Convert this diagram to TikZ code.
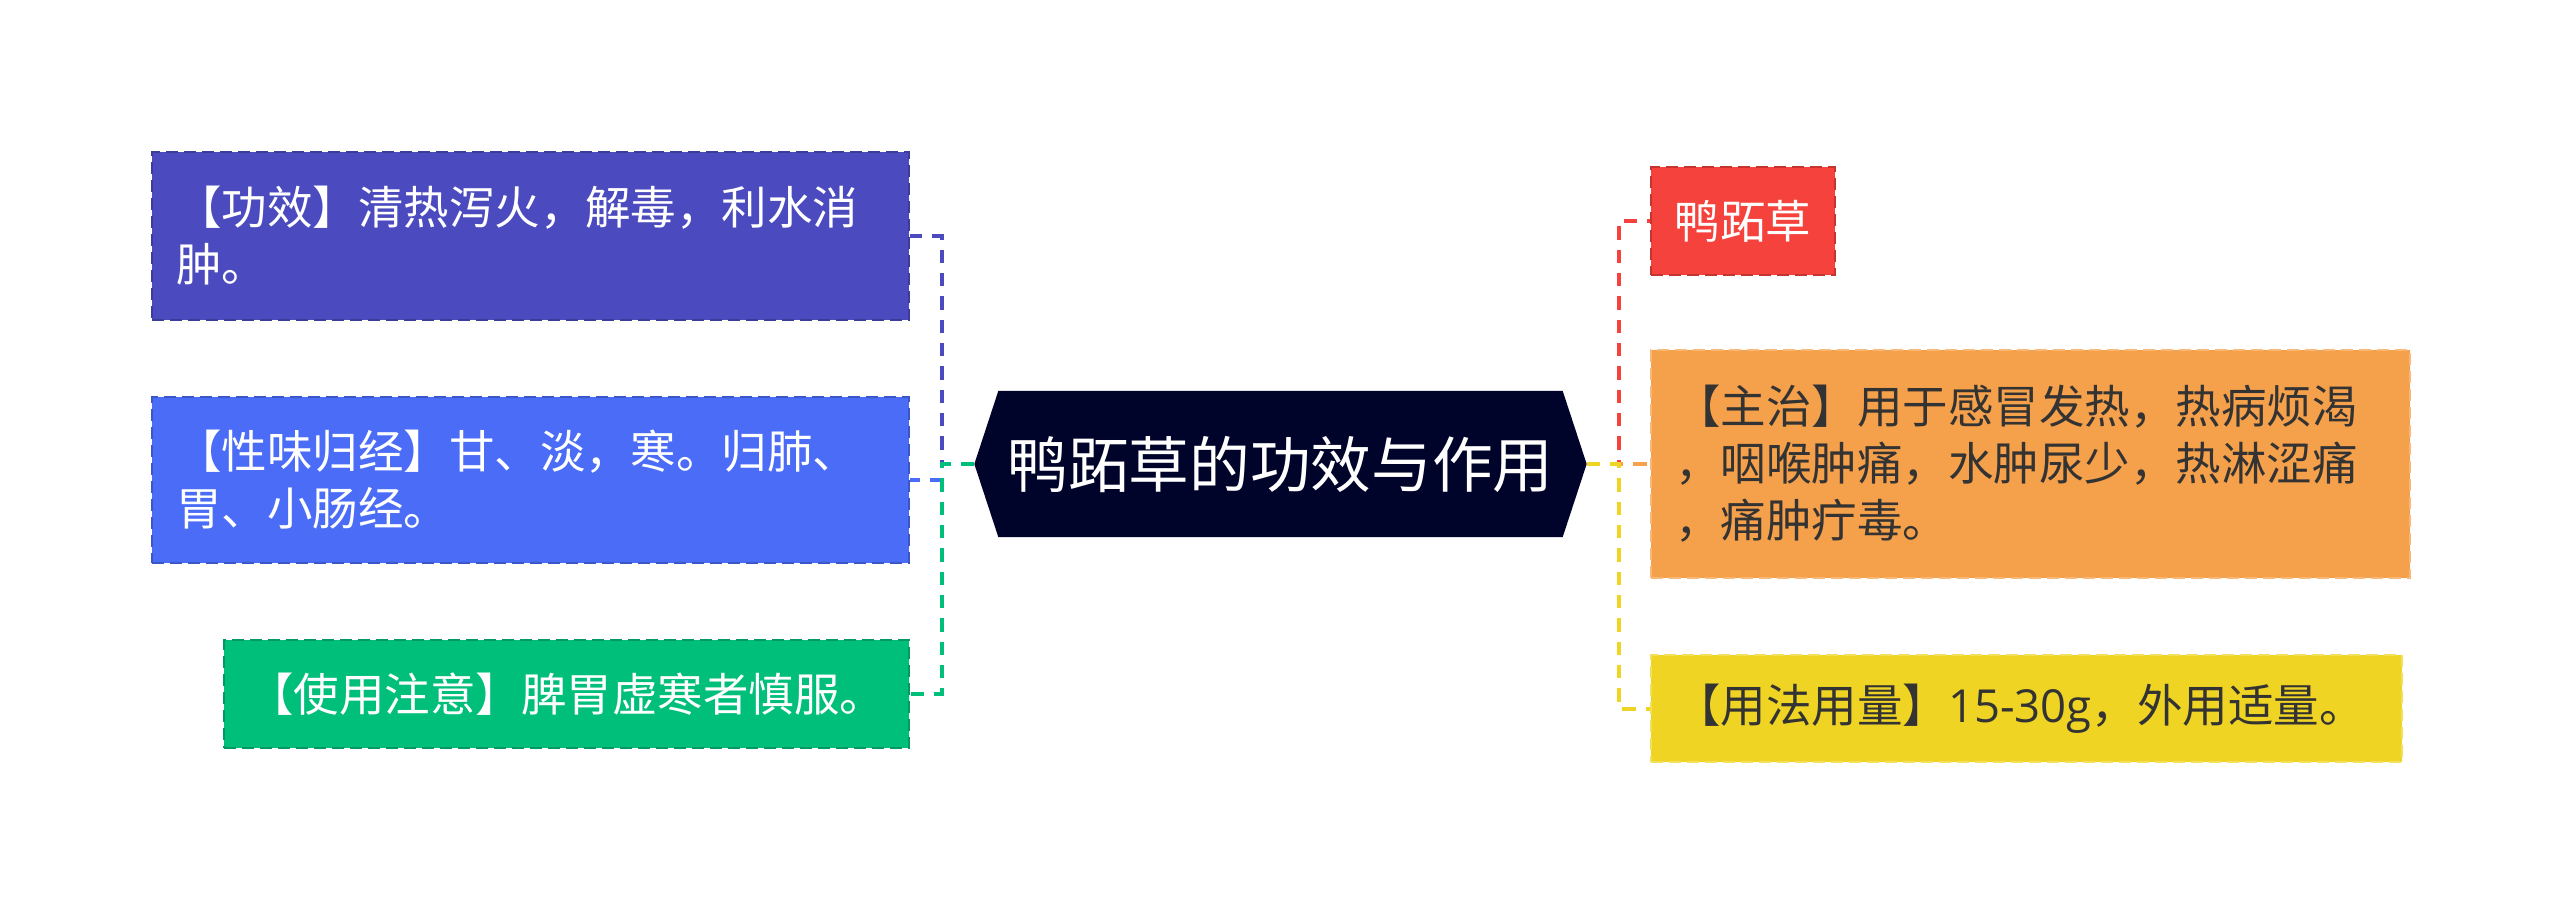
\documentclass[tikz,border=0pt]{standalone}
\usepackage{fontspec}
\setmainfont{Noto Sans CJK SC}
\newfontfamily\latinf{Open Sans}
\usetikzlibrary{backgrounds}
\definecolor{cPurple}{HTML}{4B4BBF}
\definecolor{cBlue}{HTML}{4A6CF7}
\definecolor{cGreen}{HTML}{00BF7B}
\definecolor{cRed}{HTML}{F5423C}
\definecolor{cOrange}{HTML}{F5A04B}
\definecolor{cYellow}{HTML}{F0D424}
\definecolor{cHex}{HTML}{00032A}
\definecolor{cText}{HTML}{333333}
\tikzset{
  box/.style={rectangle, inner xsep=7.2pt, inner ysep=0pt,
    font=\fontsize{13.65}{17.1}\selectfont, line width=0.6pt,
    dash pattern=on 3.6pt off 1.8pt},
  darkbox/.style={box, fill=#1, draw=#1!80!black, text=white},
  lightbox/.style={box, fill=#1, draw=#1!75!white, text=cText},
  conn/.style={line width=1.2pt, dash pattern=on 4pt off 3pt},
}
\begin{document}
\begin{tikzpicture}[x=0.3pt, y=-0.3pt]
\useasboundingbox (0,0) rectangle (2560,914);
% central node
\node (hex) at (1280.5,464) [minimum width=183.3pt, minimum height=43.5pt, inner sep=0pt,
  text=white, font=\fontsize{18.2}{20}\selectfont] {鸭跖草的功效与作用};
\begin{scope}[on background layer]
\fill[cHex] (hex.west) -- ([xshift=7.2pt]hex.north west) -- ([xshift=-7.2pt]hex.north east)
  -- (hex.east) -- ([xshift=-7.2pt]hex.south east) -- ([xshift=7.2pt]hex.south west) -- cycle;
\end{scope}
% left boxes
\node (b1) at (530.5,236) [darkbox=cPurple, minimum width=227.1pt, minimum height=50.4pt,
  text width=212.7pt, align=left] {【功效】清热泻火，解毒，利水消\\肿。};
\node (b2) at (530.5,480) [darkbox=cBlue, minimum width=227.1pt, minimum height=49.8pt,
  text width=212.7pt, align=left] {【性味归经】甘、淡，寒。归肺、\\胃、小肠经。};
\node (b3) at (566.5,694) [darkbox=cGreen, minimum width=205.5pt, minimum height=32.4pt,
  align=center] {【使用注意】脾胃虚寒者慎服。};
% right boxes
\node (r1) at (1743,221) [darkbox=cRed, minimum width=55.2pt, minimum height=32.4pt,
  align=center] {鸭跖草};
\node (r2) at (2030.5,464) [lightbox=cOrange, minimum width=227.7pt, minimum height=68.4pt,
  text width=213.3pt, align=left] {【主治】用于感冒发热，热病烦渴\\，咽喉肿痛，水肿尿少，热淋涩痛\\，痛肿疔毒。};
\node (r3) at (2026.5,708.5) [lightbox=cYellow, minimum width=225.3pt, minimum height=32.1pt,
  text width=210.9pt, align=left] {【用法用量】{\latinf 15-30g}，外用适量。};
% junctions
\coordinate (lj) at (942,464);
\coordinate (rj) at (1619,464);
% connectors
\draw[conn, cPurple] (hex.west) -- (lj) |- (b1.east);
\draw[conn, cBlue] (hex.west) -- (lj) |- (b2.east);
\draw[conn, cGreen] (hex.west) -- (lj) |- (b3.east);
\draw[conn, cRed] (hex.east) -- (rj) |- (r1.west);
\draw[conn, cOrange] (hex.east) -- (r2.west);
\draw[conn, cYellow] (hex.east) -- (rj) |- (r3.west);
\end{tikzpicture}
\end{document}
